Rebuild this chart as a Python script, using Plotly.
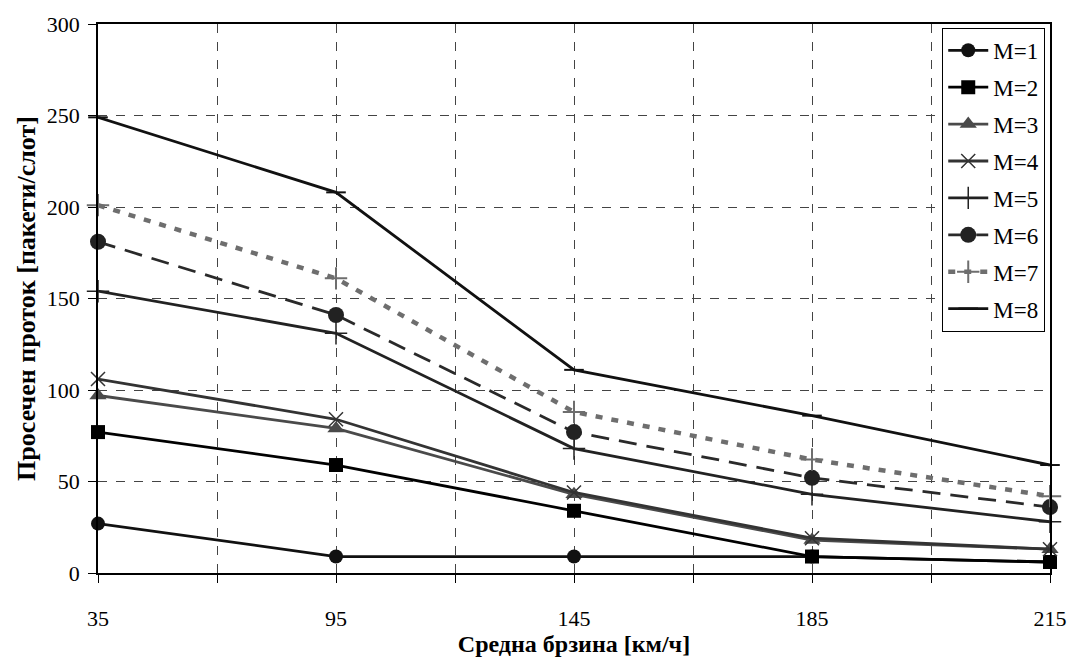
import plotly.graph_objects as go

# Average speed categories (km/h) and throughput per M
speeds = [35, 95, 145, 185, 215]
m1 = [27, 9, 9, 9, 6]
m2 = [77, 59, 34, 9, 6]
m3 = [97, 79, 43, 18, 13]
m4 = [106, 84, 44, 19, 13]
m5 = [154, 131, 68, 43, 28]
m6 = [181, 141, 77, 52, 36]
m7 = [201, 161, 88, 62, 42]
m8 = [249, 208, 111, 86, 59]
names = ["M=1", "M=2", "M=3", "M=4", "M=5", "M=6", "M=7", "M=8"]

FONT = "Liberation Serif"
xpos = list(range(len(speeds)))

styles = [
    dict(series=m1, color="#111111", dash="solid", symbol="circle", size=14, mcolor="#111111", lw=0),
    dict(series=m2, color="#000000", dash="solid", symbol="square", size=14, mcolor="#000000", lw=0),
    dict(series=m3, color="#4a4a4a", dash="solid", symbol="triangle-up", size=15, mcolor="#4a4a4a", lw=0),
    dict(series=m4, color="#333333", dash="solid", symbol="x-thin", size=14, mcolor="#333333", lw=1.5),
    dict(series=m5, color="#222222", dash="solid", symbol="cross-thin", size=16, mcolor="#222222", lw=1.5),
    dict(series=m6, color="#2a2a2a", dash="18px,10px", symbol="circle", size=16, mcolor="#222222", lw=0),
    dict(series=m7, color="#6e6e6e", dash="7px,9px", symbol="cross-thin", size=16, mcolor="#6e6e6e", lw=2),
    dict(series=m8, color="#111111", dash="solid", symbol="line-ew", size=14, mcolor="#111111", lw=2),
]

fig = go.Figure()
for name, s in zip(names, styles):
    lw = 4.5 if s["dash"] == "7px,9px" else 2.8
    fig.add_trace(go.Scatter(
        x=xpos, y=s["series"], name=name, mode="lines+markers",
        legendgroup=name,
        line=dict(color=s["color"], width=lw, dash=s["dash"]),
        marker=dict(symbol=s["symbol"], size=s["size"], color=s["mcolor"],
                    line=dict(color=s["mcolor"], width=s["lw"])),
        cliponaxis=False,
    ))

tickvals = [i * 0.5 for i in range(2 * len(speeds) - 1)]
ticktext = [str(speeds[int(v)]) if v == int(v) else "" for v in tickvals]

fig.update_layout(
    width=1079, height=664,
    margin=dict(l=98, r=24, t=18, b=91),
    paper_bgcolor="white", plot_bgcolor="white",
    font=dict(family=FONT, size=22, color="black"),
    showlegend=True,
    legend=dict(
        x=0.995, y=0.993, xanchor="right", yanchor="top",
        bgcolor="white", bordercolor="black", borderwidth=1,
        font=dict(family=FONT, size=23, color="black"), tracegroupgap=4,
        itemwidth=40,
    ),
    xaxis=dict(
        range=[0, 4], tickmode="array", tickvals=tickvals, ticktext=ticktext,
        showgrid=True, gridcolor="#444444", griddash="dash", gridwidth=1,
        showline=True, linecolor="black", linewidth=1.5, mirror=True,
        ticks="outside", ticklen=8, tickcolor="black", zeroline=False,
        ticklabelstandoff=17, tickfont=dict(family=FONT, size=22),
        title=dict(text="<b>Средна брзина [км/ч]</b>", font=dict(family=FONT, size=24), standoff=4),
    ),
    yaxis=dict(
        range=[0, 300], dtick=50,
        showgrid=True, gridcolor="#444444", griddash="dash", gridwidth=1,
        showline=True, linecolor="black", linewidth=1.5, mirror=True,
        ticks="outside", ticklen=8, tickcolor="black", zeroline=False,
        ticklabelstandoff=4, tickfont=dict(family=FONT, size=22),
        title=dict(text="<b>Просечен проток [пакети/слот]</b>", font=dict(family=FONT, size=26), standoff=4),
    ),
)

fig.write_html("out.html")
